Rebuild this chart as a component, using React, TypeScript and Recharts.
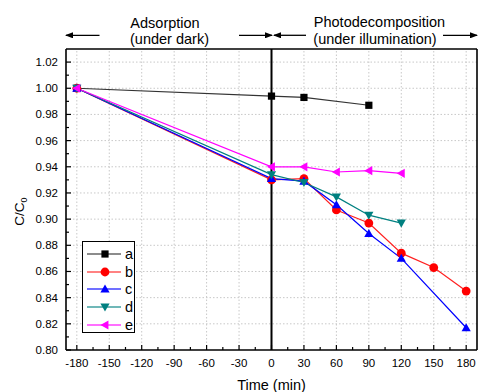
import React from 'react';
import { LineChart, XAxis, YAxis, Line, ReferenceLine, Legend, Label } from 'recharts';

const xMajor = [-180, -150, -120, -90, -60, -30, 0, 30, 60, 90, 120, 150, 180];
const xTicks = [-180, -165, -150, -135, -120, -105, -90, -75, -60, -45, -30, -15, 0, 15, 30, 45, 60, 75, 90, 105, 120, 135, 150, 165, 180];
const yMajor = [0.8, 0.82, 0.84, 0.86, 0.88, 0.9, 0.92, 0.94, 0.96, 0.98, 1.0, 1.02];
const yTicks = [0.8, 0.81, 0.82, 0.83, 0.84, 0.85, 0.86, 0.87, 0.88, 0.89, 0.9, 0.91, 0.92, 0.93, 0.94, 0.95, 0.96, 0.97, 0.98, 0.99, 1.0, 1.01, 1.02];

const timeA = [-180, 0, 30, 90];
const valuesA = [1.0, 0.994, 0.993, 0.987];
const timeB = [-180, 0, 30, 60, 90, 120, 150, 180];
const valuesB = [1.0, 0.93, 0.931, 0.907, 0.897, 0.874, 0.863, 0.845];
const timeC = [-180, 0, 30, 60, 90, 120, 180];
const valuesC = [1.0, 0.931, 0.929, 0.911, 0.889, 0.87, 0.817];
const timeD = [-180, 0, 30, 60, 90, 120];
const valuesD = [1.0, 0.934, 0.928, 0.917, 0.903, 0.897];
const timeE = [-180, 0, 30, 60, 90, 120];
const valuesE = [1.0, 0.94, 0.94, 0.936, 0.937, 0.935];

const FONT = '"Liberation Sans", Arial, sans-serif';

type Shape = 'square' | 'circle' | 'up' | 'down' | 'left';

const series = [
  { name: 'a', color: '#000000', line: '#333333', shape: 'square' as Shape, t: timeA, v: valuesA },
  { name: 'b', color: '#ff0000', line: '#ff2020', shape: 'circle' as Shape, t: timeB, v: valuesB },
  { name: 'c', color: '#0000ff', line: '#0000ff', shape: 'up' as Shape, t: timeC, v: valuesC },
  { name: 'd', color: '#008080', line: '#008080', shape: 'down' as Shape, t: timeD, v: valuesD },
  { name: 'e', color: '#ff00ff', line: '#ff00ff', shape: 'left' as Shape, t: timeE, v: valuesE },
];

const Marker = ({ cx, cy, shape, color }: { cx: number; cy: number; shape: Shape; color: string }) => {
  if (cx == null || cy == null) return null;
  const s = 4.6;
  if (shape === 'square') return <rect x={cx - 3.6} y={cy - 3.6} width={7.2} height={7.2} fill={color} />;
  if (shape === 'circle') return <circle cx={cx} cy={cy} r={4.4} fill={color} />;
  if (shape === 'up') return <polygon points={`${cx},${cy - s} ${cx + s},${cy + s * 0.75} ${cx - s},${cy + s * 0.75}`} fill={color} />;
  if (shape === 'down') return <polygon points={`${cx},${cy + s} ${cx + s},${cy - s * 0.75} ${cx - s},${cy - s * 0.75}`} fill={color} />;
  return <polygon points={`${cx - s},${cy} ${cx + s * 0.75},${cy - s} ${cx + s * 0.75},${cy + s}`} fill={color} />;
};

const BottomTick = (p: any) => {
  const v = p.payload.value;
  const major = xMajor.includes(v);
  return (
    <g>
      <line x1={p.x} x2={p.x} y1={p.y} y2={p.y - (major ? 5 : 3)} stroke="#000" strokeWidth={1.2} />
      {major && (
        <text x={p.x} y={p.y + 17} textAnchor="middle" fontSize={11.5} fontFamily={FONT} fill="#000">
          {v}
        </text>
      )}
    </g>
  );
};

const TopTick = (p: any) => {
  const major = xMajor.includes(p.payload.value);
  return <line x1={p.x} x2={p.x} y1={p.y} y2={p.y + (major ? 5 : 3)} stroke="#000" strokeWidth={1.2} />;
};

const LeftTick = (p: any) => {
  const v = p.payload.value;
  const major = yMajor.some((m) => Math.abs(m - v) < 1e-6);
  return (
    <g>
      <line x1={p.x} x2={p.x + (major ? 5 : 3)} y1={p.y} y2={p.y} stroke="#000" strokeWidth={1.2} />
      {major && (
        <text x={p.x - 8} y={p.y + 4} textAnchor="end" fontSize={11.5} fontFamily={FONT} fill="#000">
          {v.toFixed(2)}
        </text>
      )}
    </g>
  );
};

const RightTick = (p: any) => {
  const major = yMajor.some((m) => Math.abs(m - p.payload.value) < 1e-6);
  return <line x1={p.x} x2={p.x - (major ? 5 : 3)} y1={p.y} y2={p.y} stroke="#000" strokeWidth={1.2} />;
};

const LegendBox = () => (
  <div style={{ border: '1px solid #000', background: '#fff', width: 53, height: 92, boxSizing: 'border-box', paddingTop: 3 }}>
    {series.map((s) => (
      <div key={s.name} style={{ height: 17.7, display: 'flex', alignItems: 'center' }}>
        <svg width={42} height={12} style={{ display: 'block' }}>
          <line x1={4} x2={38} y1={6} y2={6} stroke={s.line} strokeOpacity={0.75} strokeWidth={1.3} />
          <Marker cx={22} cy={6} shape={s.shape} color={s.color} />
        </svg>
        <span style={{ fontFamily: FONT, fontSize: 14.5, lineHeight: '14px', color: '#000' }}>{s.name}</span>
      </div>
    ))}
  </div>
);

const YLabel = (props: any) => {
  const vb = props.viewBox;
  const y = vb.y + vb.height / 2 + 12;
  const x = 24;
  return (
    <text transform={`rotate(-90, ${x}, ${y})`} x={x} y={y} textAnchor="middle" fontSize={13.5} fontFamily={FONT} fill="#000">
      C/C<tspan fontSize={9} dy={3}>0</tspan>
    </text>
  );
};

export default function App() {
  return (
    <div style={{ position: 'absolute', left: 0, top: 0, width: 478, height: 392, background: '#fff' }}>
      <LineChart width={478} height={392} margin={{ top: 0, right: 0, bottom: 0, left: 0 }}>
        <XAxis xAxisId="b" type="number" dataKey="t" domain={[-190, 190]} ticks={xTicks} interval={0} height={42}
          tickSize={0} tickMargin={0} tick={BottomTick} axisLine={{ stroke: '#000', strokeWidth: 1.6 }} allowDuplicatedCategory={false}>
          <Label value="Time (min)" position="insideBottom" offset={2} fontSize={14.5} fontFamily={FONT} fill="#000" />
        </XAxis>
        <XAxis xAxisId="t" orientation="top" type="number" dataKey="t" domain={[-190, 190]} ticks={xTicks} interval={0} height={49}
          tickSize={0} tickMargin={0} tick={TopTick} axisLine={{ stroke: '#000', strokeWidth: 1.6 }} />
        <YAxis yAxisId="l" type="number" domain={[0.8, 1.03]} ticks={yTicks} interval={0} width={66}
          tickSize={0} tickMargin={0} tick={LeftTick} axisLine={{ stroke: '#000', strokeWidth: 1.6 }}>
          <Label content={YLabel} />
        </YAxis>
        <YAxis yAxisId="r" orientation="right" type="number" domain={[0.8, 1.03]} ticks={yTicks} interval={0} width={1}
          tickSize={0} tickMargin={0} tick={RightTick} axisLine={{ stroke: '#000', strokeWidth: 1.6 }} />
        {xMajor.map((x) => (
          <ReferenceLine key={'gx' + x} xAxisId="b" yAxisId="l" x={x} stroke="#c8c8c8" strokeDasharray="1.5 2" strokeWidth={1} />
        ))}
        {yMajor.filter((y) => y > 0.8).map((y) => (
          <ReferenceLine key={'gy' + y} xAxisId="b" yAxisId="l" y={y} stroke="#c8c8c8" strokeDasharray="1.5 2" strokeWidth={1} />
        ))}
        <ReferenceLine xAxisId="b" yAxisId="l" x={0} stroke="#000" strokeWidth={2} />
        {series.map((s) => (
          <Line key={s.name} xAxisId="b" yAxisId="l" name={s.name} data={s.t.map((t, i) => ({ t, v: s.v[i] }))} dataKey="v"
            type="linear" stroke={s.line} strokeWidth={1.2} isAnimationActive={false}
            dot={(p: any) => <Marker key={s.name + p.index} cx={p.cx} cy={p.cy} shape={s.shape} color={s.color} />}
            activeDot={false} />
        ))}
        <Legend layout="vertical" align="center" verticalAlign="middle" content={LegendBox}
          wrapperStyle={{ left: 82, top: 241, width: 53, height: 92 }} />
      </LineChart>
      <svg width={478} height={392} style={{ position: 'absolute', left: 0, top: 0, pointerEvents: 'none' }}>
        <defs>
          <marker id="ah" markerWidth={8} markerHeight={6} refX={7} refY={3} orient="auto" markerUnits="userSpaceOnUse">
            <path d="M0,0 L8,3 L0,6 Z" fill="#000" />
          </marker>
        </defs>
        <g fontFamily={FONT} fontSize={14.5} fill="#000" textAnchor="middle">
          <text x={165} y={28}>Adsorption</text>
          <text x={169.5} y={44}>(under dark)</text>
          <text x={379.5} y={26.5}>Photodecomposition</text>
          <text x={375} y={43.5}>(under illumination)</text>
        </g>
        <g stroke="#000" strokeWidth={1.3}>
          <line x1={99.5} y1={35.3} x2={66} y2={35.3} markerEnd="url(#ah)" />
          <line x1={239} y1={35.3} x2={272} y2={35.3} markerEnd="url(#ah)" />
          <line x1={306} y1={35.3} x2={274} y2={35.3} markerEnd="url(#ah)" />
          <line x1={443} y1={35.3} x2={477} y2={35.3} markerEnd="url(#ah)" />
        </g>
      </svg>
    </div>
  );
}
